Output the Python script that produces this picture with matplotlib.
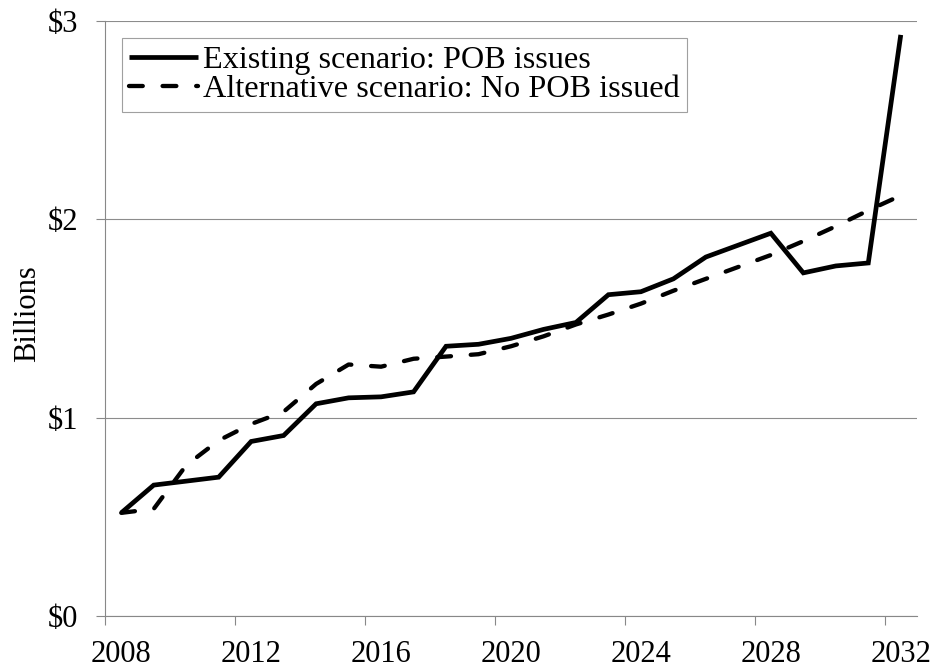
import matplotlib
matplotlib.use('Agg')
import matplotlib.pyplot as plt
from matplotlib.ticker import FixedLocator, NullFormatter

# Annual values, billions of dollars
years = list(range(2008, 2033))
existing = [0.52, 0.66, 0.68, 0.70, 0.88, 0.91, 1.07, 1.10, 1.105, 1.13,
            1.36, 1.37, 1.40, 1.445, 1.48, 1.62, 1.635, 1.70, 1.81, 1.87,
            1.93, 1.73, 1.765, 1.78, 2.93]
alternative = [0.52, 0.54, 0.76, 0.885, 0.968, 1.03, 1.17, 1.268, 1.257, 1.297,
               1.308, 1.32, 1.36, 1.41, 1.47, 1.52, 1.575, 1.64, 1.70, 1.76,
               1.82, 1.89, 1.965, 2.045, 2.12]
label_years = [2008, 2012, 2016, 2020, 2024, 2028, 2032]
y_ticks = [0, 1, 2, 3]

plt.rcParams['font.family'] = ['Liberation Serif', 'DejaVu Serif']
plt.rcParams['font.size'] = 22

fig = plt.figure(figsize=(9.35, 6.71), dpi=100)
ax = fig.add_axes([105 / 935, 1 - 616 / 671, 812 / 935, 595 / 671])

# category positions: one slot per year
x = list(range(len(years)))
ax.plot(x, existing, color='black', lw=3.4, solid_capstyle='butt',
        solid_joinstyle='miter', label='Existing scenario: POB issues')
ax.plot(x, alternative, color='black', lw=3.1, linestyle=(0, (3.2, 4.6)),
        dash_capstyle='round', label='Alternative scenario: No POB issued')

ax.set_xlim(-0.5, len(years) - 0.5)
ax.set_ylim(0, 3)

# tick marks sit between categories, labels at category centres
idx = [years.index(y) for y in label_years]
ax.xaxis.set_major_locator(FixedLocator([i - 0.5 for i in idx]))
ax.xaxis.set_major_formatter(NullFormatter())
ax.xaxis.set_minor_locator(FixedLocator(idx))
ax.set_xticklabels([str(y) for y in label_years], minor=True)
ax.tick_params(axis='x', which='major', direction='out', length=6.5,
               width=0.8, color='#888888')
ax.tick_params(axis='x', which='minor', length=0, pad=17)

ax.set_yticks(y_ticks)
ax.set_yticklabels(['$' + str(v) for v in y_ticks])
ax.tick_params(axis='y', direction='out', length=6.5, width=0.8,
               color='#888888', pad=13)

ax.grid(axis='y', color='#8c8c8c', lw=0.8)
ax.set_axisbelow(True)
for side in ['top', 'right']:
    ax.spines[side].set_visible(False)
for side in ['left', 'bottom']:
    ax.spines[side].set_color('#888888')
    ax.spines[side].set_linewidth(0.8)

ax.set_ylabel('Billions')
ax.yaxis.set_label_coords(-0.078, 0.509)

leg = ax.legend(loc='upper left', bbox_to_anchor=(0.021, 0.971),
                borderaxespad=0, frameon=True, fancybox=False,
                handlelength=2.15, handletextpad=0.15, labelspacing=0.0,
                borderpad=0.22, fontsize=23.2)
leg.get_frame().set_edgecolor('#888888')
leg.get_frame().set_linewidth(0.8)

fig.savefig('out.png', dpi=100)
